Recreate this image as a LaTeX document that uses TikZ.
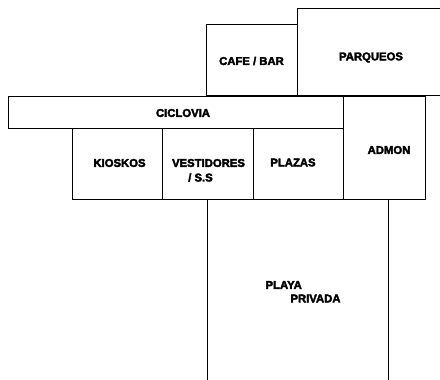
\documentclass[tikz,border=0pt]{standalone}
\usepackage{fontspec}
\setmainfont[BoldFeatures={FakeBold=3}]{Liberation Sans}
\tikzset{
  room/.style={shape=rectangle,draw,line width=0.9pt,inner sep=0pt,anchor=north west},
  lbl/.style={font=\fontsize{11.3}{13}\selectfont\bfseries,inner sep=0pt,align=center},
  wall/.style={line width=0.9pt}
}
\begin{document}
\begin{tikzpicture}[x=1pt,y=-1pt]
    \useasboundingbox (0,0) rectangle (440,380);%
    \node[room,minimum width=91pt,minimum height=71.5pt] (CAFE) at (206,23.5) {};%
    \node[room,minimum width=335pt,minimum height=32.5pt] (CICLO) at (8,95.5) {};%
    \node[room,minimum width=90pt,minimum height=71pt] (KIOSK) at (72,128) {};%
    \node[room,minimum width=91pt,minimum height=71pt] (VEST) at (162,128) {};%
    \node[room,minimum width=90pt,minimum height=71pt] (PLAZ) at (253,128) {};%
    \node[room,minimum width=82pt,minimum height=103.5pt] (ADM) at (343,95.5) {};%

    \node[lbl] (T1) at (251.5,61) {CAFE / BAR};%
    \node[lbl] (T2) at (371,57.5) {PARQUEOS};%
    \node[lbl] (T3) at (183,113) {CICLOVIA};%
    \node[lbl] (T4) at (119.5,163) {KIOSKOS};%
    \node[lbl] (T5) at (208.5,163) {VESTIDORES};%
    \node[lbl] (T6) at (200.5,177.5) {/ S.S};%
    \node[lbl] (T7) at (293,162.5) {PLAZAS};%
    \node[lbl] (T8) at (389,150) {ADMON};%
    \node[lbl] (T9) at (283.7,285) {PLAYA};%
    \node[lbl] (T10) at (315.5,298.5) {PRIVADA};%

    \coordinate (P1) at (297,23.5);%
    \coordinate (P2) at (297,8);%
    \coordinate (P3) at (440,8);%
    \coordinate (P4) at (297,95.5);%
    \coordinate (P5) at (440,95.5);%
    \coordinate (B1) at (207.5,199);%
    \coordinate (B2) at (207.5,380);%
    \coordinate (B3) at (388.5,199);%
    \coordinate (B4) at (388.5,380);%

    \draw[wall] (P1) to (P2) to (P3);%
    \draw[wall] (P4) to (P5);%
    \draw[wall] (B1) to (B2);%
    \draw[wall] (B3) to (B4);%
  \end{tikzpicture}
\end{document}
